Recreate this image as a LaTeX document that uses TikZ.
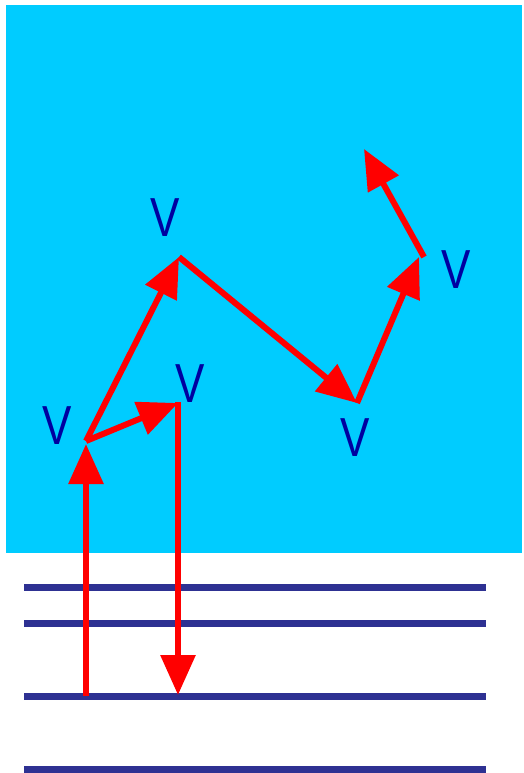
\documentclass[tikz,border=0pt]{standalone}
\usepackage{fontspec}
\setmainfont{Liberation Sans}
\usetikzlibrary{arrows.meta}
\definecolor{bgcyan}{HTML}{00CCFF}
\definecolor{levelblue}{HTML}{2E3192}
\definecolor{vblue}{HTML}{0000A0}
\definecolor{arrred}{HTML}{FF0000}
\tikzset{
  level/.style={levelblue, line width=7pt},
  jump/.style={arrred, line width=6pt, -{Triangle[length=40pt,width=34pt]}},
  seg/.style={arrred, line width=6pt},
  vlabel/.style={text=vblue, inner sep=0pt, xscale=0.8, font=\fontsize{55}{55}\selectfont}
}
\begin{document}
\begin{tikzpicture}[x=1pt,y=-1pt]
\useasboundingbox (0,0) rectangle (523,773);
\fill[bgcyan] (6,5) rectangle (522,553);
% levels
\coordinate (L1a) at (24,587); \coordinate (L1b) at (486,587);
\coordinate (L2a) at (24,623); \coordinate (L2b) at (486,623);
\coordinate (L3a) at (24,696); \coordinate (L3b) at (486,696);
\coordinate (L4a) at (24,769); \coordinate (L4b) at (486,769);
\draw[level] (L1a) -- (L1b);
\draw[level] (L2a) -- (L2b);
\draw[level] (L3a) -- (L3b);
\draw[level] (L4a) -- (L4b);
% path points
\coordinate (A) at (86,696);
\coordinate (B) at (86,441);
\coordinate (C) at (178,403);
\coordinate (Cd) at (178,695);
\coordinate (D) at (179,257);
\coordinate (E) at (357,403);
\coordinate (F) at (419,257);
\coordinate (G) at (364,149);
\draw[jump] (A) -- (86,444);
\draw[jump] (B) -- (C);
\draw[seg, line cap=butt] (C) -- (178,500);
\draw[jump] (178,402) -- (Cd);
\draw[jump] (B) -- (D);
\draw[jump] (D) -- (E);
\draw[jump] (E) -- (F);
\draw[jump] (424,257) -- (G);
% labels
\node[vlabel] (v1) at (57,426) {V};
\node[vlabel] (v2) at (165,218) {V};
\node[vlabel] (v3) at (190,384) {V};
\node[vlabel] (v4) at (355,438) {V};
\node[vlabel] (v5) at (456,270) {V};
\end{tikzpicture}
\end{document}
